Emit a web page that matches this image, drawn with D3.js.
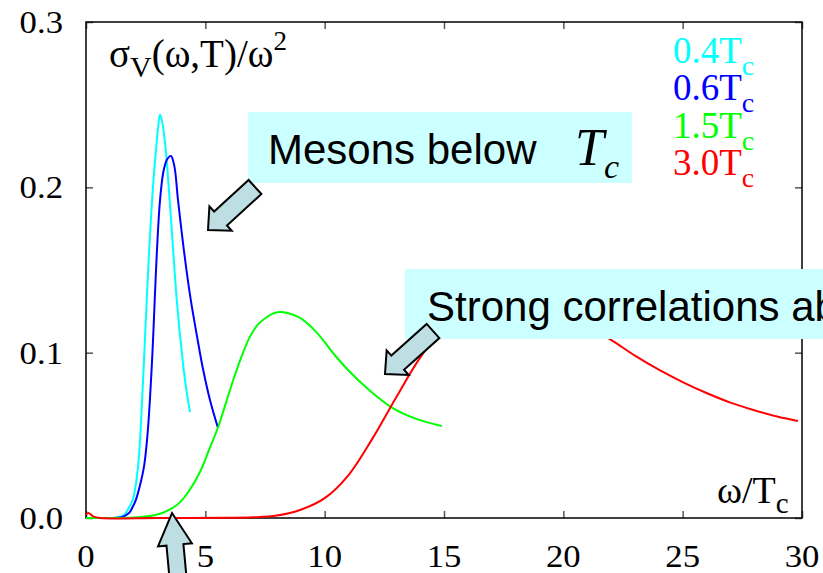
<!DOCTYPE html>
<html>
<head>
<meta charset="utf-8">
<script src="https://cdn.jsdelivr.net/npm/d3@7/dist/d3.min.js"></script>
<style>
  html, body { margin: 0; padding: 0; background: #fff; }
  svg { display: block; }
</style>
</head>
<body>
<svg id="chart" width="823" height="573"></svg>
<script>
// ---- data: vector spectral function sigma_V(omega,T)/omega^2 vs omega/Tc ----
const w04 = [0, 0.8, 1.3, 1.6, 1.75, 1.96, 2.18, 2.35, 2.5, 2.64, 2.8, 2.93, 3.02, 3.1, 3.2, 3.34, 3.45, 3.56, 3.67, 3.79, 3.92, 4.06, 4.2, 4.36];
const s04 = [0, 0, 0.0003, 0.002, 0.005, 0.011, 0.031, 0.071, 0.118, 0.160, 0.199, 0.222, 0.236, 0.244, 0.239, 0.223, 0.203, 0.181, 0.158, 0.134, 0.113, 0.094, 0.078, 0.064];

const w06 = [0, 1.0, 1.5, 1.8, 1.96, 2.09, 2.25, 2.44, 2.58, 2.68, 2.79, 2.88, 2.97, 3.1, 3.25, 3.4, 3.56, 3.7, 3.85, 4.0, 4.2, 4.4, 4.65, 4.89, 5.2, 5.53];
const s06 = [0, 0, 0.0005, 0.003, 0.0068, 0.011, 0.019, 0.032, 0.051, 0.072, 0.1016, 0.132, 0.161, 0.192, 0.210, 0.217, 0.219, 0.213, 0.193, 0.174, 0.151, 0.131, 0.110, 0.091, 0.071, 0.0544];

const w15 = [0, 1.5, 2.2, 2.8, 3.2, 3.5, 3.9, 4.3, 4.78, 5.15, 5.54, 5.85, 6.17, 6.5, 6.87, 7.2, 7.58, 7.85, 8.09, 8.4, 8.97, 9.68, 10.35, 11.06, 11.77, 12.82, 13.87, 14.91];
const s15 = [0, 0, 0.0005, 0.0015, 0.003, 0.005, 0.009, 0.016, 0.028, 0.041, 0.0552, 0.069, 0.0835, 0.097, 0.1097, 0.117, 0.1216, 0.1238, 0.1246, 0.1242, 0.121, 0.112, 0.0998, 0.0883, 0.0786, 0.0668, 0.0598, 0.0557];

const w30 = [0, 0.1, 0.3, 0.6, 3, 6, 7, 8, 9, 10, 11, 12, 13, 14, 15, 16, 17, 18, 19, 20, 21, 22, 23, 24, 25, 26, 27, 28, 29, 29.83];
const s30 = [0.002, 0.003, 0.001, 0, 0, 0.0001, 0.0004, 0.0015, 0.005, 0.012, 0.026, 0.048, 0.073, 0.097, 0.115, 0.125, 0.130, 0.1305, 0.128, 0.1235, 0.116, 0.1077, 0.0982, 0.0897, 0.0822, 0.0756, 0.0698, 0.0652, 0.0612, 0.0587];

const seriesNames  = ["0.4", "0.6", "1.5", "3.0"];
const seriesColors = ["#00ffff", "#0000ff", "#00ff00", "#ff0000"];

const xTicks = [0, 5, 10, 15, 20, 25, 30];
const xTickLabels = ["0", "5", "10", "15", "20", "25", "30"];
const yTicks = [0, 0.1, 0.2, 0.3];
const yTickLabels = ["0.0", "0.1", "0.2", "0.3"];

// ---- layout ----
const svg = d3.select("#chart");
const plotL = 86, plotR = 802, plotT = 22, plotB = 518;
const x = d3.scaleLinear().domain([0, 30]).range([plotL, plotR]);
const y = d3.scaleLinear().domain([0, 0.3]).range([plotB, plotT]);

const serif = "'Liberation Serif', 'Times New Roman', serif";
const sans = "'Liberation Sans', Arial, sans-serif";

// inward ticks on all four sides
const tickColor = "#555";
const gx = svg.append("g").attr("transform", `translate(0,${plotB})`)
  .call(d3.axisBottom(x).tickValues(xTicks).tickSize(-7).tickFormat(""));
const gx2 = svg.append("g").attr("transform", `translate(0,${plotT})`)
  .call(d3.axisTop(x).tickValues(xTicks).tickSize(-7).tickFormat(""));
const gy = svg.append("g").attr("transform", `translate(${plotL},0)`)
  .call(d3.axisLeft(y).tickValues(yTicks).tickSize(-7).tickFormat(""));
const gy2 = svg.append("g").attr("transform", `translate(${plotR},0)`)
  .call(d3.axisRight(y).tickValues(yTicks).tickSize(-7).tickFormat(""));
[gx, gx2, gy, gy2].forEach(g => {
  g.select(".domain").remove();
  g.selectAll(".tick line").attr("stroke", tickColor).attr("stroke-width", 1.5);
});

// frame
svg.append("rect")
  .attr("x", plotL).attr("y", plotT)
  .attr("width", plotR - plotL).attr("height", plotB - plotT)
  .attr("fill", "none").attr("stroke", "#000").attr("stroke-width", 1.5);

// helper: serif text, optionally widened like the plotting program's font
function wideText(px, py, anchor, size, sx) {
  return svg.append("text")
    .attr("transform", `translate(${px},${py}) scale(${sx},1)`)
    .attr("text-anchor", anchor)
    .attr("font-family", serif)
    .attr("font-size", size)
    .attr("fill", "#000");
}

// tick labels
xTicks.forEach((t, i) => {
  wideText(x(t), 567, "middle", 31, 1.12).text(xTickLabels[i]);
});
yTicks.forEach((t, i) => {
  wideText(63, y(t) + 11, "end", 31, 1.12).text(yTickLabels[i]);
});

// curves
const line = d3.line()
  .x(d => x(d[0]))
  .y(d => y(d[1]))
  .curve(d3.curveCatmullRom.alpha(0.5));
const curves = [[w04, s04], [w06, s06], [w15, s15], [w30, s30]];
curves.forEach(([ws, ss], i) => {
  svg.append("path")
    .datum(ws.map((v, k) => [v, ss[k]]))
    .attr("d", line)
    .attr("fill", "none")
    .attr("stroke", seriesColors[i])
    .attr("stroke-width", 2);
});

// y-axis title
const yt = wideText(109, 67, "start", 39, 1.0);
yt.append("tspan").text("σ");
yt.append("tspan").attr("dy", 10).attr("font-size", 30).text("V");
yt.append("tspan").attr("dy", -10).text("(ω,T)/ω");
yt.append("tspan").attr("dy", -17).attr("font-size", 27).text("2");

// x-axis title
const xt = wideText(717, 503, "start", 38, 1.0);
xt.append("tspan").text("ω/T");
xt.append("tspan").attr("dy", 10).attr("font-size", 29).text("c");

// legend
seriesNames.forEach((n, i) => {
  const t = wideText(673, 63 + i * 37.3, "start", 37, 1.0).attr("fill", seriesColors[i]);
  t.append("tspan").text(n + "T");
  t.append("tspan").attr("dy", 12).attr("font-size", 28).text("c");
});

// callout boxes
const boxFill = "#ccffff";
svg.append("rect").attr("x", 248).attr("y", 112).attr("width", 384).attr("height", 71).attr("fill", boxFill);
svg.append("rect").attr("x", 405).attr("y", 269).attr("width", 430).attr("height", 70).attr("fill", boxFill);

const m = svg.append("text").attr("x", 268).attr("y", 164)
  .attr("font-family", sans).attr("font-size", 42).attr("fill", "#000");
m.append("tspan").text("Mesons below");
const mt = svg.append("text").attr("x", 575).attr("y", 165)
  .attr("font-family", serif).attr("font-style", "italic").attr("font-size", 52).attr("fill", "#000");
mt.append("tspan").text("T");
mt.append("tspan").attr("dy", 13).attr("font-size", 34).text("c");

const sc = svg.append("text").attr("x", 427).attr("y", 321)
  .attr("font-family", sans).attr("font-size", 42).attr("fill", "#000");
sc.append("tspan").text("Strong correlations above ");
sc.append("tspan").attr("font-family", serif).attr("font-style", "italic").attr("font-size", 52).text("T");
sc.append("tspan").attr("dy", 13).attr("font-family", serif).attr("font-style", "italic").attr("font-size", 34).text("c");

// block arrows
function blockArrow(tip, tail, headLen, headW, shaftW) {
  const dx = tip[0] - tail[0], dy = tip[1] - tail[1];
  const L = Math.hypot(dx, dy);
  const ux = dx / L, uy = dy / L, nx = -uy, ny = ux;
  const bx = tip[0] - ux * headLen, by = tip[1] - uy * headLen;
  const pts = [
    tip,
    [bx + nx * headW / 2, by + ny * headW / 2],
    [bx + nx * shaftW / 2, by + ny * shaftW / 2],
    [tail[0] + nx * shaftW / 2, tail[1] + ny * shaftW / 2],
    [tail[0] - nx * shaftW / 2, tail[1] - ny * shaftW / 2],
    [bx - nx * shaftW / 2, by - ny * shaftW / 2],
    [bx - nx * headW / 2, by - ny * headW / 2]
  ];
  svg.append("polygon")
    .attr("points", pts.map(p => p.join(",")).join(" "))
    .attr("fill", "#bddfe3")
    .attr("stroke", "#000")
    .attr("stroke-width", 2)
    .attr("stroke-linejoin", "miter");
}
blockArrow([208, 230], [255, 187], 17, 33, 19);
blockArrow([385, 374], [433, 331], 17, 33, 19);
blockArrow([172, 513], [181, 610], 32, 34, 17);
</script>
</body>
</html>
